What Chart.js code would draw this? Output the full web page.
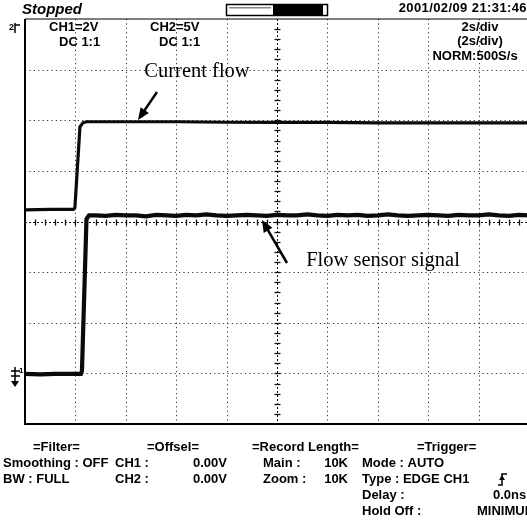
<!DOCTYPE html>
<html>
<head>
<meta charset="utf-8">
<script src="https://cdn.jsdelivr.net/npm/chart.js@4.4.0/dist/chart.umd.min.js"></script>
<style>
  html, body { margin: 0; padding: 0; background: #fff; overflow: hidden; }
  #wrap { width: 540px; height: 525px; }
</style>
</head>
<body>
<div id="wrap"><canvas id="scope" width="540" height="525"></canvas></div>
<script>
// 示波器截图数据 (单位: 格, x 0..10, y 0..8)
const ch1X = [0, 0.5, 0.96, 0.99, 1.09, 1.15, 1.22, 2, 3, 4, 5, 6, 7, 8, 9, 10];
const ch1Y = [4.23, 4.24, 4.24, 4.27, 5.87, 5.95, 5.97, 5.97, 5.97, 5.96, 5.96, 5.96, 5.95, 5.95, 5.95, 5.95];

const ch2X = [0, 0.3, 0.6, 0.9, 1.11, 1.13, 1.22, 1.27,
    1.4, 1.6, 1.8, 2.0, 2.2, 2.4, 2.6, 2.8, 3.0, 3.2, 3.4, 3.6, 3.8, 4.0, 4.2,
    4.4, 4.6, 4.8, 5.0, 5.2, 5.4, 5.6, 5.8, 6.0, 6.2, 6.4, 6.6, 6.8, 7.0, 7.2,
    7.4, 7.6, 7.8, 8.0, 8.2, 8.4, 8.6, 8.8, 9.0, 9.2, 9.4, 9.6, 9.8, 10.0];
const ch2Y = [0.99, 0.98, 0.99, 0.99, 0.99, 1.05, 4.05, 4.12,
    4.12, 4.11, 4.13, 4.12, 4.12, 4.10, 4.13, 4.12, 4.11, 4.13,
    4.12, 4.14, 4.12, 4.11, 4.12, 4.13, 4.12, 4.11, 4.13, 4.12,
    4.12, 4.14, 4.12, 4.11, 4.13, 4.12, 4.13, 4.11, 4.12, 4.14,
    4.12, 4.11, 4.12, 4.13, 4.12, 4.11, 4.13, 4.12, 4.12, 4.14,
    4.12, 4.11, 4.13, 4.12];

const xDivs = [1, 2, 3, 4, 6, 7, 8, 9];
const yDivs = [1, 2, 3, 5, 6, 7];

const FONT = '"Liberation Sans", Arial, sans-serif';

function toPoints(xs, ys) {
    return xs.map((x, i) => ({ x: x, y: ys[i] }));
}

function arrow(ctx, x1, y1, x2, y2) {
    const a = Math.atan2(y2 - y1, x2 - x1);
    ctx.save();
    ctx.strokeStyle = '#000';
    ctx.fillStyle = '#000';
    ctx.lineWidth = 2.5;
    ctx.beginPath();
    ctx.moveTo(x1, y1);
    ctx.lineTo(x2 - 8 * Math.cos(a), y2 - 8 * Math.sin(a));
    ctx.stroke();
    ctx.beginPath();
    ctx.moveTo(x2, y2);
    ctx.lineTo(x2 - 12 * Math.cos(a) + 5 * Math.sin(a), y2 - 12 * Math.sin(a) - 5 * Math.cos(a));
    ctx.lineTo(x2 - 12 * Math.cos(a) - 5 * Math.sin(a), y2 - 12 * Math.sin(a) + 5 * Math.cos(a));
    ctx.closePath();
    ctx.fill();
    ctx.restore();
}

function txt(ctx, s, x, y, align, font) {
    ctx.font = font || ('bold 13px ' + FONT);
    ctx.textAlign = align || 'left';
    ctx.fillText(s, x, y);
}

// 网格 / 边框
const gridPlugin = {
    id: 'scopeGrid',
    beforeDatasetsDraw(chart) {
        const ctx = chart.ctx;
        const xs = chart.scales.x, ys = chart.scales.y;
        const L = xs.getPixelForValue(0), R = xs.getPixelForValue(10);
        const T = ys.getPixelForValue(8), B = ys.getPixelForValue(0);
        ctx.save();
        ctx.strokeStyle = '#333';
        ctx.lineWidth = 1;
        ctx.setLineDash([1.2, 3.2]);
        xDivs.forEach(v => {
            const p = Math.round(xs.getPixelForValue(v)) + 0.5;
            ctx.beginPath(); ctx.moveTo(p, T); ctx.lineTo(p, B); ctx.stroke();
        });
        yDivs.forEach(v => {
            const p = Math.round(ys.getPixelForValue(v)) + 0.5;
            ctx.beginPath(); ctx.moveTo(L, p); ctx.lineTo(R, p); ctx.stroke();
        });
        // 中心线
        ctx.strokeStyle = '#111';
        ctx.setLineDash([2, 2]);
        const cx = Math.round(xs.getPixelForValue(5)) + 0.5;
        const cy = Math.round(ys.getPixelForValue(4)) + 0.5;
        ctx.beginPath(); ctx.moveTo(cx, T); ctx.lineTo(cx, B); ctx.stroke();
        ctx.beginPath(); ctx.moveTo(L, cy); ctx.lineTo(R, cy); ctx.stroke();
        ctx.setLineDash([]);
        ctx.lineWidth = 1.3;
        for (let k = 1; k < 40; k++) {
            const p = Math.round(ys.getPixelForValue(k / 5)) + 0.5;
            ctx.beginPath(); ctx.moveTo(cx - 3, p); ctx.lineTo(cx + 3, p); ctx.stroke();
        }
        for (let k = 1; k < 50; k++) {
            const p = Math.round(xs.getPixelForValue(k / 5)) + 0.5;
            ctx.beginPath(); ctx.moveTo(p, cy - 3); ctx.lineTo(p, cy + 3); ctx.stroke();
        }
        // 边框
        ctx.strokeStyle = '#000';
        ctx.lineWidth = 1.2;
        ctx.beginPath(); ctx.moveTo(L, T); ctx.lineTo(R, T); ctx.stroke();
        ctx.lineWidth = 2;
        ctx.beginPath(); ctx.moveTo(L, T); ctx.lineTo(L, B); ctx.lineTo(R, B); ctx.lineTo(R, T); ctx.stroke();
        ctx.restore();
    },
    afterDraw(chart) {
        const ctx = chart.ctx;
        ctx.save();
        ctx.fillStyle = '#000';
        ctx.textBaseline = 'middle';

        // 顶部状态栏
        txt(ctx, 'Stopped', 22, 10, 'left', 'italic bold 15px ' + FONT);
        ctx.letterSpacing = '0.4px';
        txt(ctx, '2001/02/09 21:31:46', 527, 8, 'right');
        ctx.letterSpacing = '0px';
        ctx.lineWidth = 1.5;
        ctx.strokeStyle = '#000';
        ctx.strokeRect(226.5, 4.5, 101, 11);
        ctx.fillRect(273, 4, 50, 12);
        ctx.fillStyle = '#888';
        ctx.fillRect(229, 7, 42, 1.5);
        ctx.fillStyle = '#000';

        // 通道信息
        txt(ctx, 'CH1=2V', 49, 27);
        txt(ctx, 'DC 1:1', 59, 42);
        txt(ctx, 'CH2=5V', 150, 27);
        txt(ctx, 'DC 1:1', 159, 42);
        txt(ctx, '2s/div', 480, 27, 'center');
        txt(ctx, '(2s/div)', 480, 41, 'center');
        txt(ctx, 'NORM:500S/s', 475, 56, 'center');

        // 左侧通道标记
        txt(ctx, '2', 9, 28, 'left', 'bold 9px ' + FONT);
        ctx.lineWidth = 1.5;
        ctx.beginPath(); ctx.moveTo(15, 23); ctx.lineTo(15, 33); ctx.moveTo(15, 25); ctx.lineTo(20, 25); ctx.stroke();
        ctx.beginPath();
        ctx.moveTo(15, 367); ctx.lineTo(15, 384);
        ctx.moveTo(11, 371); ctx.lineTo(20, 371);
        ctx.moveTo(11, 376); ctx.lineTo(20, 376);
        ctx.stroke();
        ctx.beginPath(); ctx.moveTo(11, 381); ctx.lineTo(19, 381); ctx.lineTo(15, 387); ctx.closePath(); ctx.fill();
        txt(ctx, '1', 19, 371, 'left', 'bold 8px ' + FONT);

        // 标注
        txt(ctx, 'Current flow', 197, 72, 'center', '20.5px "Liberation Serif", "Times New Roman", serif');
        arrow(ctx, 157, 92, 138, 120);
        txt(ctx, 'Flow sensor signal', 383, 261, 'center', '20.5px "Liberation Serif", "Times New Roman", serif');
        arrow(ctx, 287, 263, 262, 220);

        // 底部参数
        const r = [447, 463, 479, 495, 511];
        txt(ctx, '=Filter=', 33, r[0]);
        txt(ctx, 'Smoothing : OFF', 3, r[1]);
        txt(ctx, 'BW : FULL', 3, r[2]);
        txt(ctx, '=Offsel=', 147, r[0]);
        txt(ctx, 'CH1 :', 115, r[1]);
        txt(ctx, '0.00V', 227, r[1], 'right');
        txt(ctx, 'CH2 :', 115, r[2]);
        txt(ctx, '0.00V', 227, r[2], 'right');
        txt(ctx, '=Record Length=', 252, r[0]);
        txt(ctx, 'Main :', 263, r[1]);
        txt(ctx, '10K', 348, r[1], 'right');
        txt(ctx, 'Zoom :', 263, r[2]);
        txt(ctx, '10K', 348, r[2], 'right');
        txt(ctx, '=Trigger=', 417, r[0]);
        txt(ctx, 'Mode : AUTO', 362, r[1]);
        txt(ctx, 'Type : EDGE CH1', 362, r[2]);
        txt(ctx, 'Delay :', 362, r[3]);
        txt(ctx, '0.0ns', 493, r[3]);
        txt(ctx, 'Hold Off :', 362, r[4]);
        txt(ctx, 'MINIMUM', 477, r[4]);
        // 上升沿符号
        ctx.lineWidth = 1.5;
        ctx.beginPath();
        ctx.moveTo(498, 485); ctx.lineTo(502, 485); ctx.lineTo(502, 474); ctx.lineTo(507, 474);
        ctx.stroke();
        ctx.beginPath(); ctx.moveTo(502, 475); ctx.lineTo(499, 480); ctx.lineTo(505, 480); ctx.closePath(); ctx.fill();
        ctx.restore();
    }
};

new Chart(document.getElementById('scope').getContext('2d'), {
    type: 'line',
    data: {
        datasets: [
            {
                label: 'Current flow',
                data: toPoints(ch1X, ch1Y),
                borderColor: '#0a0a0a',
                borderWidth: 3.2,
                pointRadius: 0,
                tension: 0
            },
            {
                label: 'Flow sensor signal',
                data: toPoints(ch2X, ch2Y),
                borderColor: '#0a0a0a',
                borderWidth: 4.2,
                pointRadius: 0,
                tension: 0
            }
        ]
    },
    options: {
        responsive: false,
        animation: false,
        layout: { padding: { left: 25, top: 19, right: 11, bottom: 101 } },
        plugins: { legend: { display: false }, tooltip: { enabled: false } },
        scales: {
            x: { type: 'linear', min: 0, max: 10, display: false },
            y: { type: 'linear', min: 0, max: 8, display: false }
        }
    },
    plugins: [gridPlugin]
});
</script>
</body>
</html>
